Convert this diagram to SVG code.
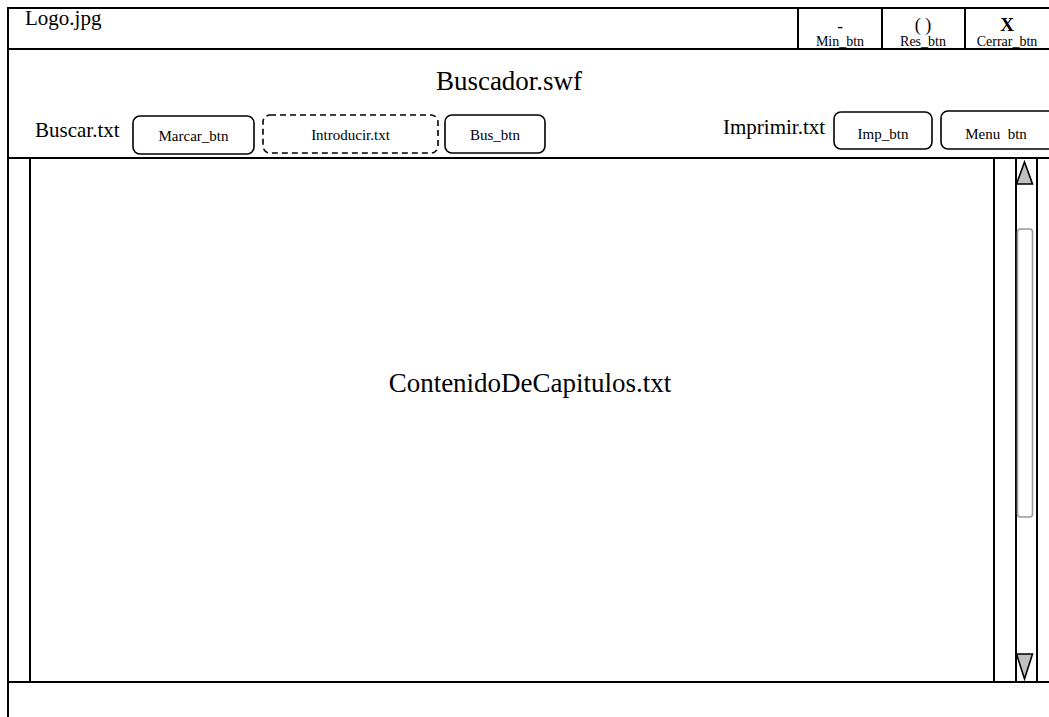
<svg xmlns="http://www.w3.org/2000/svg" width="1049" height="717" viewBox="0 0 1049 717">
  <style>
    .ln { stroke: #000; stroke-width: 2; fill: none; }
    .btn { fill: #fff; stroke: #000; stroke-width: 1.6; }
    .dash { fill: #fff; stroke: #000; stroke-width: 1.6; stroke-dasharray: 6 4; }
    text { font-family: "Liberation Serif", "DejaVu Serif", "Times New Roman", serif; fill: #000; }
    .lbl { font-size: 21px; }
    .big { font-size: 27px; }
    .bt { font-size: 15px; text-anchor: middle; }
    .tb { font-size: 14px; text-anchor: middle; }
    .arrow { fill: #c0c0c0; stroke: #000; stroke-width: 1.6; stroke-linejoin: miter; }
  </style>
  <rect width="1049" height="717" fill="#fff"/>

  <!-- window frame and panel separators -->
  <g id="frame">
    <line class="ln" x1="8" y1="8" x2="1049" y2="8"/>
    <line class="ln" x1="8" y1="7" x2="8" y2="717"/>
    <line class="ln" x1="8" y1="49" x2="1049" y2="49"/>
    <line class="ln" x1="8" y1="158" x2="1049" y2="158"/>
    <line class="ln" x1="8" y1="682" x2="1049" y2="682"/>
    <line class="ln" x1="30" y1="158" x2="30" y2="682"/>
  </g>

  <g font-family="Liberation Serif, DejaVu Serif, serif">
    <!-- title bar -->
    <g id="logo">
      <text class="lbl" x="25" y="25">Logo.jpg</text>
    </g>
    <g id="min_btn">
      <line class="ln" x1="798" y1="8" x2="798" y2="49"/>
      <text x="840" y="32" font-size="17" font-weight="bold" text-anchor="middle">-</text>
      <text class="tb" x="840" y="46">Min_btn</text>
    </g>
    <g id="res_btn">
      <line class="ln" x1="882" y1="8" x2="882" y2="49"/>
      <text x="923" y="31" font-size="18" text-anchor="middle">( )</text>
      <text class="tb" x="923" y="46">Res_btn</text>
    </g>
    <g id="cerrar_btn">
      <line class="ln" x1="965" y1="8" x2="965" y2="49"/>
      <text x="1007" y="31" font-size="19" font-weight="bold" text-anchor="middle">X</text>
      <text class="tb" x="1007" y="46">Cerrar_btn</text>
    </g>

    <!-- header -->
    <g id="titulo">
      <text class="big" x="509" y="90" text-anchor="middle">Buscador.swf</text>
    </g>

    <!-- toolbar -->
    <g id="buscar">
      <text class="lbl" x="35" y="137">Buscar.txt</text>
    </g>
    <g id="marcar_btn">
      <rect class="btn" x="133" y="116" width="121" height="38" rx="7"/>
      <text class="bt" x="193.5" y="141">Marcar_btn</text>
    </g>
    <g id="introducir">
      <rect class="dash" x="263" y="115" width="175" height="38" rx="7"/>
      <text class="bt" x="350.5" y="140">Introducir.txt</text>
    </g>
    <g id="bus_btn">
      <rect class="btn" x="445" y="115" width="100" height="38" rx="7"/>
      <text class="bt" x="495" y="140">Bus_btn</text>
    </g>
    <g id="imprimir">
      <text class="lbl" x="723" y="134">Imprimir.txt</text>
    </g>
    <g id="imp_btn">
      <rect class="btn" x="834" y="112" width="98" height="37" rx="7"/>
      <text class="bt" x="883" y="139">Imp_btn</text>
    </g>
    <g id="menu_btn">
      <rect class="btn" x="941" y="111" width="120" height="38" rx="7"/>
      <text class="bt" x="996" y="139" xml:space="preserve">Menu  btn</text>
    </g>

    <!-- content area -->
    <g id="contenido">
      <text class="big" x="530" y="392" text-anchor="middle">ContenidoDeCapitulos.txt</text>
    </g>
  </g>

  <!-- vertical scrollbar -->
  <g id="scrollbar">
    <line class="ln" x1="994" y1="158" x2="994" y2="682"/>
    <line class="ln" x1="1016" y1="158" x2="1016" y2="682"/>
    <line class="ln" x1="1037" y1="158" x2="1037" y2="682"/>
    <polygon class="arrow" points="1024.5,162 1032.5,184 1016.5,184"/>
    <rect x="1017.5" y="229" width="15" height="288" rx="3" fill="#fff" stroke="#999" stroke-width="1.6"/>
    <polygon class="arrow" points="1016.5,654 1032.5,654 1024.5,679"/>
  </g>
</svg>
